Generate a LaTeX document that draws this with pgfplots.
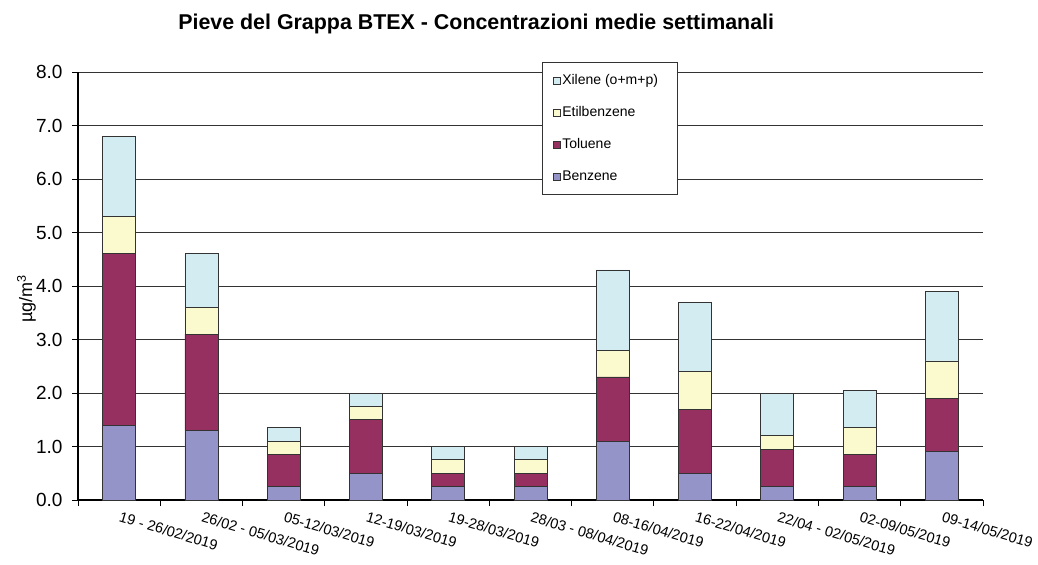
\documentclass[border=0pt]{standalone}
\usepackage{pgfplots}
\usepackage{pgfplotstable}
\pgfplotsset{compat=1.18}
\usepackage{fontspec}
\setmainfont{Liberation Sans}
\definecolor{benz}{RGB}{148,148,200}
\definecolor{tol}{RGB}{150,48,96}
\definecolor{etil}{RGB}{250,250,206}
\definecolor{xil}{RGB}{210,236,242}
\pgfplotstableread{
x benz tol etil xil
0.5 1.40 3.20 0.70 1.50
1.5 1.30 1.80 0.50 1.00
2.5 0.25 0.60 0.25 0.25
3.5 0.50 1.00 0.25 0.25
4.5 0.25 0.25 0.25 0.25
5.5 0.25 0.25 0.25 0.25
6.5 1.10 1.20 0.50 1.50
7.5 0.50 1.20 0.70 1.30
8.5 0.25 0.70 0.25 0.80
9.5 0.25 0.60 0.50 0.70
10.5 0.90 1.00 0.70 1.30
}\data
\begin{document}
\begin{tikzpicture}
\path[use as bounding box] (-78bp,-65bp) rectangle (960bp,500bp);
\begin{axis}[
  at={(0,0)}, anchor=south west,
  scale only axis, width=905bp, height=428bp,
  ybar stacked, bar width=33bp,
  xmin=0, xmax=11, ymin=0, ymax=8,
  axis lines*=left,
  axis line style={black, line width=1.3bp},
  tick align=outside,
  major tick length=6bp,
  tick style={black, line width=0.9bp},
  xtick={0,...,11},
  xticklabels={19 - 26/02/2019, 26/02 - 05/03/2019, 05-12/03/2019, 12-19/03/2019, 19-28/03/2019, 28/03 - 08/04/2019, 08-16/04/2019, 16-22/04/2019, 22/04 - 02/05/2019, 02-09/05/2019, 09-14/05/2019, {}},
  xticklabel style={font=\fontsize{14.5bp}{16bp}\selectfont, anchor=north west, xshift=41.1bp, yshift=-1bp, rotate=-16.5},
  ytick={0,...,8},
  yticklabel style={font=\fontsize{19bp}{21bp}\selectfont, xshift=-6bp, /pgf/number format/.cd, fixed, fixed zerofill, precision=1, assume math mode=true},
  ymajorgrids,
  grid style={black!80, line width=0.9bp},
  ylabel={µg/m\textsuperscript{3}},
  ylabel style={font=\fontsize{18bp}{20bp}\selectfont, at={(axis description cs:-0.057,0.47)}, anchor=center},
  title={Pieve del Grappa BTEX - Concentrazioni medie settimanali},
  title style={font=\bfseries\fontsize{21.4bp}{24bp}\selectfont, at={(axis description cs:0.44,1.099)}, anchor=center},
  every axis plot/.append style={draw=black!80, line width=0.8bp},
  legend image code/.code={\draw[#1, line width=0.6bp] (0bp,-4bp) rectangle (7.5bp,3.5bp);},
  reverse legend,
  legend cell align=left,
  legend style={at={(axis description cs:0.513,1.023)}, anchor=north west, draw=black!80, line width=0.8bp, fill=white,
    font=\fontsize{14bp}{16bp}\selectfont, inner xsep=10bp, inner ysep=2bp, row sep=0bp,
    nodes={minimum height=32bp, inner xsep=1.5bp}},
]
\addplot[fill=benz] table[x=x, y=benz] {\data};
\addlegendentry{Benzene}
\addplot[fill=tol] table[x=x, y=tol] {\data};
\addlegendentry{Toluene}
\addplot[fill=etil] table[x=x, y=etil] {\data};
\addlegendentry{Etilbenzene}
\addplot[fill=xil] table[x=x, y=xil] {\data};
\addlegendentry{Xilene (o+m+p)\kern8bp}
\end{axis}
\end{tikzpicture}
\end{document}
